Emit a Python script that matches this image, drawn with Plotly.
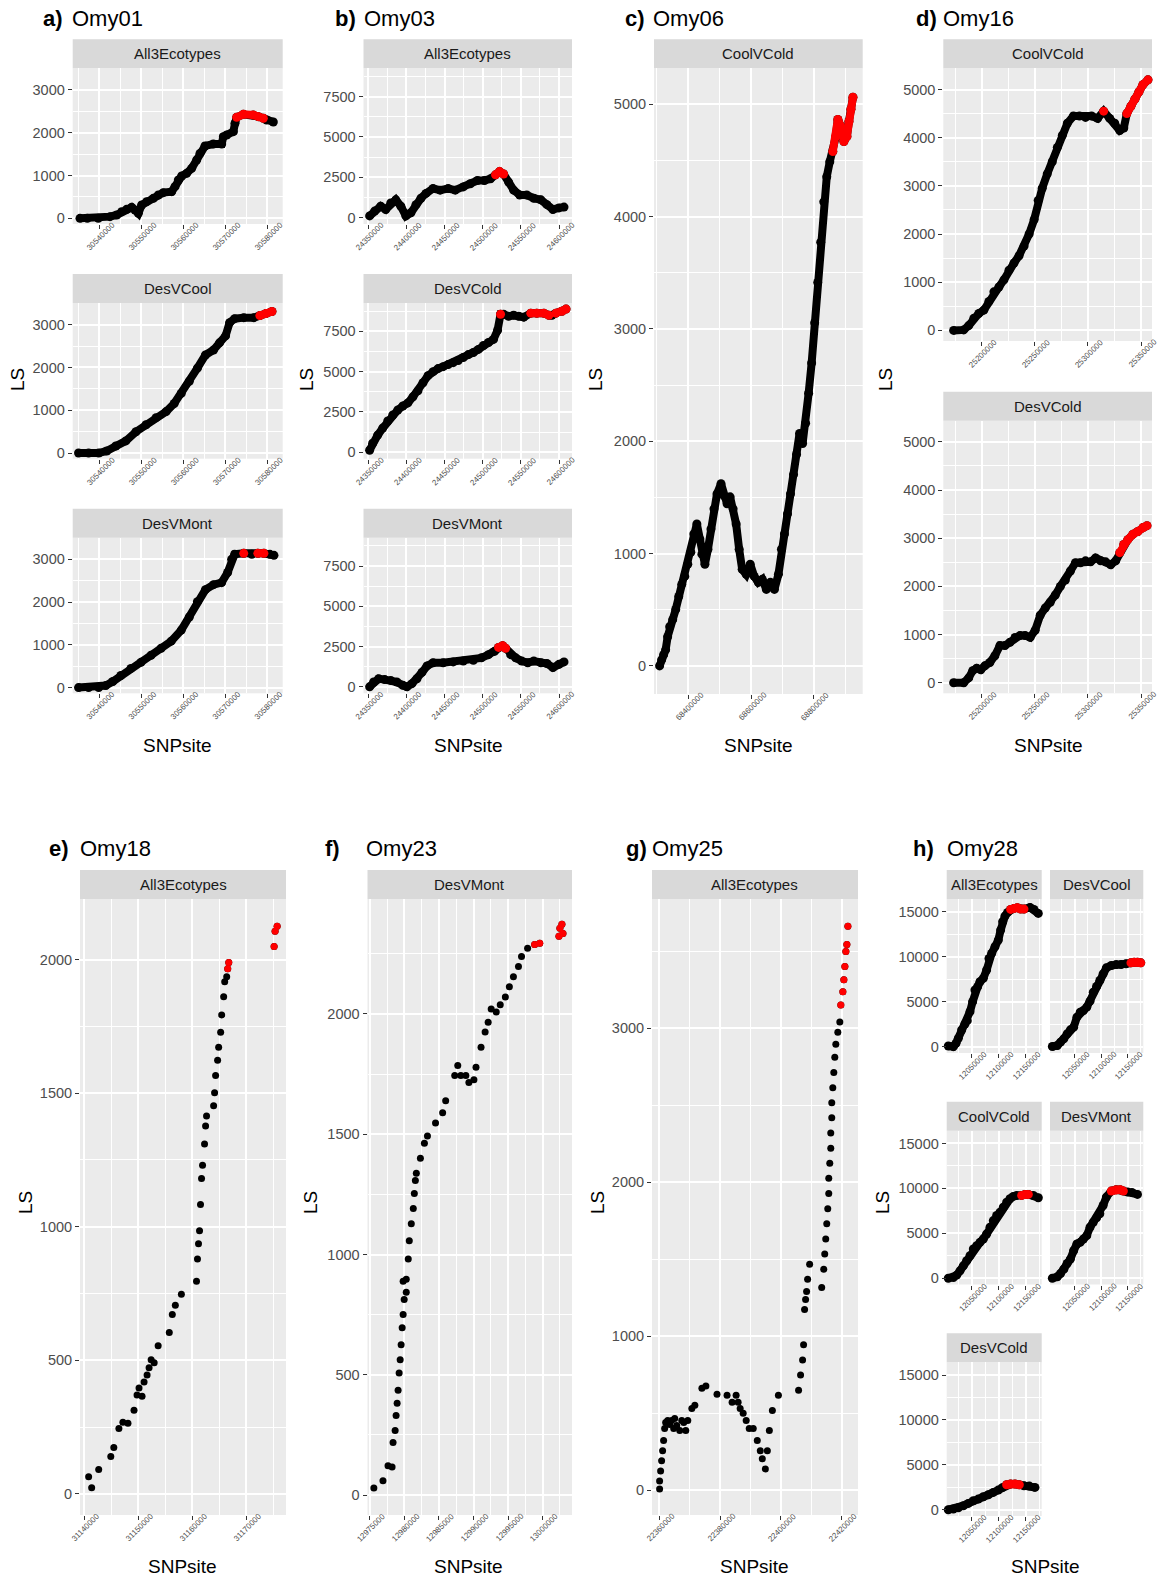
import plotly.graph_objects as go

# ---------------- data: (SNPsite, LS, outlier flag) ----------------
omy01_all3 = [(30535400,0,0),(30537150,0,0),(30539770,0,0),(30542550,39,0),(30544140,78,0),(30545330,155,0),
    (30546520,210,0),(30547710,257,0),(30548500,194,0),(30549300,117,0),(30550090,311,0),(30551280,389,0),
    (30552870,467,0),(30554060,545,0),(30555250,600,0),(30557240,623,0),(30558030,740,0),(30558820,896,0),
    (30559620,989,0),(30560810,1052,0),(30562000,1169,0),(30563190,1363,0),(30563980,1519,0),(30565170,1691,0),
    (30567150,1737,0),(30569140,1737,0),(30569540,1909,0),(30570330,1948,0),(30571920,2026,0),(30572310,2221,0),
    (30572710,2361,1),(30574300,2431,1),(30576680,2415,1),(30577870,2377,1),(30579060,2338,1),(30579850,2298,0),
    (30581440,2252,0)]
omy01_desvcool = [(30535060,0,0),(30537460,0,0),(30539860,0,0),(30541770,47,0),(30543930,165,0),(30546330,283,0),
    (30548730,496,0),(30551130,661,0),(30553520,827,0),(30555920,968,0),(30557840,1157,0),(30559520,1394,0),
    (30561440,1677,0),(30563360,1984,0),(30565280,2291,0),(30567200,2409,0),(30568630,2575,0),(30570070,2740,0),
    (30571030,3047,0),(30572230,3141,0),(30574390,3165,0),(30576790,3165,0),(30578230,3212,1),(30579670,3259,1),
    (30581110,3307,1)]
omy01_desvmont = [(30535060,0,0),(30537460,0,0),(30539860,0,0),(30541530,47,0),(30543210,142,0),(30545130,283,0),
    (30547530,449,0),(30549930,591,0),(30552330,756,0),(30554720,921,0),(30557120,1087,0),(30559520,1346,0),
    (30561440,1653,0),(30563360,2008,0),(30565280,2291,0),(30567200,2409,0),(30569120,2456,0),(30570560,2693,0),
    (30571510,3000,0),(30572230,3118,0),(30574390,3141,1),(30576310,3118,0),(30577750,3141,1),(30579190,3141,1),
    (30580630,3118,0),(30581590,3094,0)]

omy03_all3 = [(24351720,100,0),(24358320,400,0),(24366240,700,0),(24372840,500,0),(24379440,900,0),(24386040,1100,0),
    (24392650,700,0),(24399250,100,0),(24405850,300,0),(24412450,800,0),(24419050,1200,0),(24425650,1500,0),
    (24434900,1800,0),(24444140,1700,0),(24454700,1800,0),(24463940,1700,0),(24474500,1900,0),(24483740,2100,0),
    (24492980,2300,0),(24502220,2300,0),(24510140,2400,0),(24516750,2650,1),(24522030,2850,1),(24527310,2700,1),
    (24533910,2200,0),(24540510,1700,0),(24548440,1400,0),(24557680,1400,0),(24566920,1200,0),(24576160,1100,0),
    (24584080,800,0),(24592010,500,0),(24599930,600,0),(24606530,650,0)]
omy03_desvcold = [(24351720,125,0),(24355680,560,0),(24362280,1060,0),(24368880,1500,0),(24375480,1940,0),
    (24382080,2310,0),(24388680,2620,0),(24395290,2870,0),(24401890,3060,0),(24408490,3440,0),(24415090,3810,0),
    (24421690,4310,0),(24428290,4750,0),(24434900,5000,0),(24441500,5190,0),(24448100,5310,0),(24454700,5440,0),
    (24461300,5560,0),(24467900,5690,0),(24474500,5880,0),(24481110,6060,0),(24487710,6190,0),(24494310,6380,0),
    (24500910,6620,0),(24507510,6810,0),(24514110,7000,0),(24519390,7560,0),(24523350,8560,1),(24527310,8560,0),
    (24533910,8440,0),(24540510,8500,0),(24547110,8440,0),(24553710,8380,0),(24562960,8630,1),(24570880,8630,1),
    (24580120,8630,1),(24586720,8500,1),(24590680,8500,0),(24595960,8630,1),(24603880,8750,1),(24609160,8880,1)]
omy03_desvmont = [(24351720,0,0),(24357000,300,0),(24363600,500,0),(24371520,450,0),(24379440,400,0),(24387360,300,0),
    (24395290,100,0),(24400570,0,0),(24407170,200,0),(24413770,500,0),(24420370,900,0),(24426970,1300,0),
    (24434900,1500,0),(24448100,1500,0),(24461300,1550,0),(24474500,1600,0),(24487710,1650,0),(24498270,1800,0),
    (24507510,2000,0),(24515430,2200,0),(24520710,2450,1),(24526000,2550,1),(24529960,2400,1),(24536560,2000,0),
    (24543160,1800,0),(24551080,1600,0),(24559000,1500,0),(24566920,1600,0),(24576160,1500,0),(24584080,1450,0),
    (24592010,1200,0),(24599930,1400,0),(24606530,1550,0)]

omy06_coolvcold = [(68308460,0,0),(68314880,54,0),(68321310,99,0),(68327730,143,0),(68334150,260,0),(68340580,349,0),
    (68350210,412,0),(68359850,502,0),(68369480,618,0),(68379120,726,0),(68388760,797,0),(68398390,905,0),
    (68408030,1012,0),(68417670,1174,0),(68427300,1263,0),(68436940,1129,0),(68443360,995,0),(68453000,905,0),
    (68462630,1039,0),(68472270,1218,0),(68481910,1398,0),(68491540,1532,0),(68504390,1622,0),(68514030,1514,0),
    (68523660,1443,0),(68533300,1505,0),(68542930,1398,0),(68552570,1263,0),(68562210,1039,0),(68571840,860,0),
    (68584690,815,0),(68597540,905,0),(68610390,797,0),(68623230,744,0),(68636080,771,0),(68648930,681,0),
    (68661780,744,0),(68674630,681,0),(68687470,815,0),(68697110,1039,0),(68706750,1174,0),(68716380,1353,0),
    (68726020,1532,0),(68735660,1703,0),(68745290,1882,0),(68754930,2070,0),(68764560,1980,0),(68774200,2160,0),
    (68783840,2428,0),(68793470,2697,0),(68803110,3055,0),(68812750,3414,0),(68822380,3772,0),(68832020,4131,0),
    (68841650,4355,0),(68851290,4489,0),(68860920,4579,1),(68870560,4713,1),(68876980,4865,1),(68886620,4802,1),
    (68896260,4668,1),(68905890,4713,1),(68912320,4847,1),(68918740,4955,1),(68925160,5062,1)]

omy16_coolvcold = [(25173550,0,0),(25183030,10,0),(25187770,100,0),(25192510,250,0),(25197250,350,0),(25201990,420,0),
    (25206730,600,0),(25211470,800,0),(25216210,900,0),(25220950,1050,0),(25225700,1250,0),(25230440,1400,0),
    (25235180,1550,0),(25239920,1750,0),(25244660,2000,0),(25249400,2300,0),(25253190,2700,0),(25256990,2950,0),
    (25261730,3250,0),(25266470,3500,0),(25271210,3800,0),(25275950,4050,0),(25280690,4300,0),(25286380,4450,0),
    (25292070,4450,0),(25297760,4420,0),(25303450,4450,0),(25309140,4400,0),(25314830,4550,1),(25320520,4400,0),
    (25325270,4300,0),(25330010,4150,0),(25333800,4200,0),(25336640,4500,1),(25340440,4650,1),(25344230,4800,1),
    (25348020,4950,1),(25351820,5100,1),(25356560,5200,1)]
omy16_desvcold = [(25173550,0,0),(25183030,0,0),(25187770,100,0),(25191560,250,0),(25195350,300,0),(25199150,270,0),
    (25202940,350,0),(25207680,420,0),(25212420,560,0),(25217160,770,0),(25221900,770,0),(25226650,840,0),
    (25231390,940,0),(25236130,980,0),(25240870,980,0),(25245610,940,0),(25250350,1090,0),(25255090,1400,0),
    (25259830,1550,0),(25264570,1670,0),(25269310,1820,0),(25274050,2000,0),(25278800,2130,0),(25283540,2320,0),
    (25288280,2490,0),(25293020,2490,0),(25297760,2530,0),(25302500,2510,0),(25307240,2590,0),(25311980,2530,0),
    (25316720,2510,0),(25321470,2450,0),(25326210,2530,0),(25330010,2700,1),(25333800,2870,1),(25337590,2970,1),
    (25342330,3080,1),(25347070,3140,1),(25351820,3220,1),(25355610,3260,1)]

omy18_all3 = [(31140860,64,0),(31141420,23,0),(31142720,91,0),(31144960,140,0),(31145520,174,0),(31146460,245,0),
    (31147200,268,0),(31148140,264,0),(31149260,313,0),(31149820,370,0),(31150190,396,0),(31150750,366,0),
    (31151120,419,0),(31151680,445,0),(31152050,472,0),(31152430,502,0),(31152990,491,0),(31153730,555,0),
    (31155790,604,0),(31156350,672,0),(31156910,706,0),(31158030,747,0),(31160830,796,0),(31161010,879,0),
    (31161200,936,0),(31161390,985,0),(31161570,1083,0),(31161760,1181,0),(31161950,1230,0),(31162320,1310,0),
    (31162510,1377,0),(31162690,1415,0),(31164000,1453,0),(31164180,1502,0),(31164370,1566,0),(31164740,1623,0),
    (31164930,1672,0),(31165300,1728,0),(31165490,1793,0),(31165860,1861,0),(31166050,1917,0),(31166420,1936,0),
    (31166610,1966,1),(31166800,1989,1),(31175200,2049,1),(31175380,2106,1),(31175760,2125,1)]

omy23_desvmont = [(12975570,29,0),(12976890,59,0),(12977620,122,0),(12978210,117,0),(12978350,218,0),(12978650,268,0),
    (12978790,331,0),(12978940,382,0),(12979080,436,0),(12979230,507,0),(12979380,562,0),(12979520,625,0),
    (12979670,696,0),(12979810,751,0),(12979960,813,0),(12979810,889,0),(12980260,897,0),(12980260,843,0),
    (12980550,981,0),(12980700,1057,0),(12980990,1128,0),(12981280,1191,0),(12981430,1254,0),(12981580,1308,0),
    (12981720,1338,0),(12982310,1400,0),(12982890,1463,0),(12983330,1493,0),(12984500,1547,0),(12985530,1589,0),
    (12985970,1639,0),(12987280,1744,0),(12987720,1786,0),(12988160,1744,0),(12988890,1744,0),(12989330,1715,0),
    (12990060,1727,0),(12990360,1778,0),(12991090,1862,0),(12991680,1925,0),(12992120,1966,0),(12992560,2021,0),
    (12993290,2008,0),(12993870,2038,0),(12994610,2071,0),(12995190,2113,0),(12995780,2155,0),(12996510,2197,0),
    (12996950,2239,0),(12997830,2273,0),(12998850,2289,1),(12999590,2294,1),(13002370,2323,1),(13002510,2356,1),
    (13002800,2373,1),(13002950,2335,1)]

omy25_all3 = [(22360100,7,0),(22360100,59,0),(22360430,124,0),(22360760,190,0),(22361090,255,0),(22361420,321,0),
    (22361760,399,0),(22362090,439,0),(22362750,452,0),(22363410,426,0),(22364070,452,0),(22364740,399,0),
    (22365070,465,0),(22365730,419,0),(22366720,386,0),(22367390,452,0),(22368050,439,0),(22368710,386,0),
    (22369370,452,0),(22370700,530,0),(22371690,550,0),(22374010,661,0),(22375330,675,0),(22378980,622,0),
    (22382290,616,0),(22383950,570,0),(22385270,616,0),(22385930,570,0),(22386600,530,0),(22387590,498,0),
    (22388580,452,0),(22389580,399,0),(22390900,399,0),(22392230,321,0),(22393220,255,0),(22393880,203,0),
    (22394880,137,0),(22395540,255,0),(22396200,386,0),(22397190,517,0),(22399180,616,0),(22405810,648,0),
    (22406470,747,0),(22407130,845,0),(22407460,943,0),(22407790,1172,0),(22408120,1238,0),(22408450,1290,0),
    (22408790,1369,0),(22409450,1467,0),(22413420,1316,0),(22414090,1434,0),(22414420,1533,0),(22414750,1631,0),
    (22415080,1729,0),(22415410,1827,0),(22415740,1925,0),(22415740,2024,0),(22416070,2122,0),(22416400,2220,0),
    (22416400,2318,0),(22416730,2417,0),(22416730,2515,0),(22417070,2613,0),(22417400,2711,0),(22417730,2810,0),
    (22418060,2895,0),(22418720,2973,0),(22419380,3039,0),(22419710,3150,1),(22420380,3235,1),(22420710,3314,1),
    (22421040,3399,1),(22421370,3497,1),(22421700,3543,1),(22422030,3661,1)]

omy28_all3 = [(12006670,78,0),(12015930,4,0),(12020870,374,0),(12025190,930,0),(12031360,1856,0),(12037530,2523,0),
    (12041850,2893,0),(12046790,3893,0),(12051730,5004,0),(12056050,6300,0),(12060990,6670,0),(12065310,7226,0),
    (12071480,7596,0),(12077650,8522,0),(12081970,9818,0),(12086910,10373,0),(12093080,11114,0),(12099260,11855,0),
    (12103580,12966,0),(12107280,13892,0),(12111600,14522,0),(12116540,14929,0),(12122100,15263,1),(12128270,15374,1),
    (12134440,15448,1),(12140610,15300,1),(12146790,15300,1),(12157900,15487,0),(12165300,15263,0),(12173300,14818,0)]
omy28_desvcool = [(12008150,24,0),(12017410,135,0),(12023580,506,0),(12029750,876,0),(12035920,1432,0),(12042100,1876,0),
    (12048270,2172,0),(12054440,3283,0),(12060610,3839,0),(12066780,4024,0),(12072960,4395,0),(12079130,5062,0),
    (12085300,6062,0),(12091480,6692,0),(12097650,7359,0),(12103820,8100,0),(12110000,8766,0),(12119250,9025,0),
    (12128510,9136,0),(12137770,9136,0),(12147030,9211,0),(12156290,9322,1),(12162460,9396,1),(12168630,9396,1),
    (12174800,9322,1)]
omy28_coolvcold = [(12006670,0,0),(12015930,75,0),(12022100,336,0),(12028280,821,0),(12034450,1380,0),(12040620,1940,0),
    (12046790,2500,0),(12052960,3246,0),(12059140,3619,0),(12065310,3992,0),(12071480,4365,0),(12077650,4925,0),
    (12083830,5671,0),(12090000,6417,0),(12096170,6977,0),(12102350,7350,0),(12108520,7910,0),(12114690,8469,0),
    (12120860,8842,0),(12127040,9104,0),(12133210,9216,0),(12142470,9216,1),(12148640,9328,1),(12154820,9328,1),
    (12164070,9216,0),(12173330,8954,0)]
omy28_desvmont = [(12008150,0,0),(12017410,149,0),(12023580,522,0),(12029750,1007,0),(12035920,1642,0),(12042100,2127,0),
    (12048270,3059,0),(12054440,3806,0),(12060610,3992,0),(12066780,4365,0),(12072960,4738,0),(12079130,5671,0),
    (12085300,6231,0),(12091480,6716,0),(12097650,7164,0),(12103820,8097,0),(12110000,9029,0),(12119250,9701,1),
    (12128510,9850,1),(12135910,9850,1),(12142090,9701,1),(12150110,9589,0),(12158130,9552,0),(12168630,9328,0)]
omy28_desvcold = [(12006670,0,0),(12015930,74,0),(12025190,222,0),(12034450,444,0),(12043710,704,0),(12052960,1000,0),
    (12062220,1185,0),(12071480,1444,0),(12080740,1667,0),(12090000,1926,0),(12099260,2185,0),(12107280,2482,0),
    (12114690,2778,1),(12122100,2852,1),(12130120,2852,1),(12138140,2778,1),(12146790,2667,0),(12156660,2630,0),
    (12167150,2482,0)]

# ---------------- tick values ----------------
omy01_xticks = [30540000, 30550000, 30560000, 30570000, 30580000]
omy01_yticks = [0, 1000, 2000, 3000]
omy03_xticks = [24350000, 24400000, 24450000, 24500000, 24550000, 24600000]
omy03_yticks = [0, 2500, 5000, 7500]
omy06_xticks = [68400000, 68600000, 68800000]
omy06_yticks = [0, 1000, 2000, 3000, 4000, 5000]
omy16_xticks = [25200000, 25250000, 25300000, 25350000]
omy16_yticks = [0, 1000, 2000, 3000, 4000, 5000]
omy18_xticks = [31140000, 31150000, 31160000, 31170000]
omy18_yticks = [0, 500, 1000, 1500, 2000]
omy23_xticks = [12975000, 12980000, 12985000, 12990000, 12995000, 13000000]
omy23_yticks = [0, 500, 1000, 1500, 2000]
omy25_xticks = [22360000, 22380000, 22400000, 22420000]
omy25_yticks = [0, 1000, 2000, 3000]
omy28_xticks = [12050000, 12100000, 12150000]
omy28_yticks = [0, 5000, 10000, 15000]

# ---------------- figure ----------------
W, H = 1158, 1579
FONT = "Liberation Sans, Arial, sans-serif"
PANEL_BG = "#EBEBEB"
STRIP_BG = "#D9D9D9"
TICK_GREY = "#4D4D4D"


def fx(p):
    return p / W


def fy(p):
    return 1 - p / H


fig = go.Figure()
layout = {}
shapes = []
annotations = []
counter = [0]


def minor_vals(ticks, rng):
    step = ticks[1] - ticks[0]
    vals = [t - step / 2 for t in ticks] + [ticks[-1] + step / 2]
    return [v for v in vals if rng[0] <= v <= rng[1]]


def facet(data, xpix, ypix, xr, yr, xt, yt, strip, show_y=True, dense=True):
    counter[0] += 1
    n = counter[0]
    s = "" if n == 1 else str(n)
    xa, ya = "x" + s, "y" + s
    pos = [d[0] for d in data]
    ls = [d[1] for d in data]
    msize = 9 if dense else 7
    mode = "lines+markers" if dense else "markers"
    fig.add_trace(go.Scatter(x=pos, y=ls, mode=mode, xaxis=xa, yaxis=ya,
                             marker=dict(color="black", size=msize),
                             line=dict(color="black", width=8),
                             showlegend=False, hoverinfo="skip", cliponaxis=False))
    rx, ry, prev = [], [], None
    for i, d in enumerate(data):
        if d[2]:
            if prev is not None and prev != i - 1:
                rx.append(None)
                ry.append(None)
            rx.append(d[0])
            ry.append(d[1])
            prev = i
    fig.add_trace(go.Scatter(x=rx, y=ry, mode=mode, xaxis=xa, yaxis=ya,
                             marker=dict(color="#FF0000", size=msize),
                             line=dict(color="#FF0000", width=8),
                             showlegend=False, hoverinfo="skip", cliponaxis=False))
    x0, x1 = xpix
    st, sb, pb = ypix
    layout["xaxis" + s] = dict(
        domain=[fx(x0), fx(x1)], anchor=ya, range=xr, tickmode="array", automargin=False,
        tickvals=xt, showticklabels=False,
        ticks="outside", ticklen=4, tickwidth=1.1, tickcolor="#333333",
        showgrid=True, gridcolor="white", gridwidth=1.6, zeroline=False, showline=False,
        minor=dict(tickmode="array", tickvals=minor_vals(xt, xr), showgrid=True,
                   gridcolor="white", gridwidth=0.8, ticks=""),
        fixedrange=True)
    layout["yaxis" + s] = dict(
        domain=[fy(pb), fy(sb)], anchor=xa, range=yr, tickmode="array", automargin=False,
        tickvals=yt, ticktext=[str(v) for v in yt], showticklabels=show_y,
        tickfont=dict(size=14.5, color=TICK_GREY, family=FONT),
        ticks="outside" if show_y else "", ticklen=4, tickwidth=1.1, tickcolor="#333333",
        showgrid=True, gridcolor="white", gridwidth=1.6, zeroline=False, showline=False,
        minor=dict(tickmode="array", tickvals=minor_vals(yt, yr), showgrid=True,
                   gridcolor="white", gridwidth=0.8, ticks=""),
        fixedrange=True)
    # rotated x tick labels centred under each tick (ggplot angle = 45)
    for t in xt:
        annotations.append(dict(text=str(t), xref=xa, yref="paper", x=t, y=fy(pb + 12.5),
                                xshift=1.5, textangle=-45, showarrow=False,
                                xanchor="center", yanchor="middle",
                                font=dict(size=8, color=TICK_GREY, family=FONT)))
    shapes.append(dict(type="rect", xref="paper", yref="paper", x0=fx(x0), x1=fx(x1),
                       y0=fy(sb), y1=fy(st), fillcolor=STRIP_BG, line=dict(width=0), layer="below"))
    annotations.append(dict(text=strip, xref="paper", yref="paper", x=fx((x0 + x1) / 2),
                            y=fy((st + sb) / 2), showarrow=False, xanchor="center", yanchor="middle",
                            font=dict(size=15, color="#1A1A1A", family=FONT)))


def title(label, name, xl, xt, yc):
    annotations.append(dict(text="<b>%s</b>" % label, xref="paper", yref="paper", x=fx(xl), y=fy(yc),
                            xanchor="left", yanchor="middle", showarrow=False,
                            font=dict(size=22, color="black", family=FONT)))
    annotations.append(dict(text=name, xref="paper", yref="paper", x=fx(xt), y=fy(yc),
                            xanchor="left", yanchor="middle", showarrow=False,
                            font=dict(size=22, color="black", family=FONT)))


def axis_titles(xc, yx, ycx, ycy):
    annotations.append(dict(text="SNPsite", xref="paper", yref="paper", x=fx(xc), y=fy(yx),
                            xanchor="center", yanchor="middle", showarrow=False,
                            font=dict(size=19, color="black", family=FONT)))
    annotations.append(dict(text="LS", xref="paper", yref="paper", x=fx(ycx), y=fy(ycy),
                            xanchor="center", yanchor="middle", showarrow=False, textangle=-90,
                            font=dict(size=19, color="black", family=FONT)))


rows3 = [(39.3, 68.3, 224.0), (274.0, 303.0, 458.7), (508.7, 537.7, 693.3)]

# a) Omy01
xr, yr = [30533670, 30583670], [-133, 3507]
for d, lab, r in zip([omy01_all3, omy01_desvcool, omy01_desvmont], ["All3Ecotypes", "DesVCool", "DesVMont"], rows3):
    facet(d, (72.7, 282.7), r, xr, yr, omy01_xticks, omy01_yticks, lab)
title("a)", "Omy01", 40.5, 70, 19)
axis_titles(177, 745, 17, 380)

# b) Omy03
xr, yr = [24343700, 24617000], [-400, 9260]
for d, lab, r in zip([omy03_all3, omy03_desvcold, omy03_desvmont], ["All3Ecotypes", "DesVCold", "DesVMont"], rows3):
    facet(d, (363.5, 572.0), r, xr, yr, omy03_xticks, omy03_yticks, lab)
title("b)", "Omy03", 333, 362, 19)
axis_titles(468, 745, 306, 380)

# c) Omy06
facet(omy06_coolvcold, (654.0, 862.7), (39.3, 68.3, 694.0), [68290600, 68956300], [-250, 5320],
      omy06_xticks, omy06_yticks, "CoolVCold")
title("c)", "Omy06", 623, 651, 19)
axis_titles(758, 745, 595, 380)

# d) Omy16
xr, yr = [25163840, 25360360], [-220, 5440]
facet(omy16_coolvcold, (943.3, 1152.0), (39.3, 68.3, 341.0), xr, yr, omy16_xticks, omy16_yticks, "CoolVCold")
facet(omy16_desvcold, (943.3, 1152.0), (391.7, 420.7, 693.3), xr, yr, omy16_xticks, omy16_yticks, "DesVCold")
title("d)", "Omy16", 914, 941, 19)
axis_titles(1048, 745, 885, 380)

# e) Omy18
facet(omy18_all3, (80.0, 286.0), (870.0, 899.0, 1515.0), [31139260, 31177400], [-79, 2227],
      omy18_xticks, omy18_yticks, "All3Ecotypes", dense=False)
title("e)", "Omy18", 47, 78, 848)
axis_titles(182, 1566, 25, 1203)

# f) Omy23
facet(omy23_desvmont, (367.5, 572.0), (870.0, 899.0, 1515.0), [12974650, 13004260], [-83, 2478],
      omy23_xticks, omy23_yticks, "DesVMont", dense=False)
title("f)", "Omy23", 323, 364, 848)
axis_titles(468, 1566, 310, 1203)

# g) Omy25
facet(omy25_all3, (652.0, 858.0), (870.0, 899.0, 1515.0), [22357600, 22425360], [-162, 3838],
      omy25_xticks, omy25_yticks, "All3Ecotypes", dense=False)
title("g)", "Omy25", 624, 650, 848)
axis_titles(755, 1566, 597, 1203)

# h) Omy28
xr, yr = [12003700, 12179600], [-700, 16420]
c1, c2 = (946.7, 1041.7), (1050.0, 1143.3)
hr = [(870.0, 899.0, 1053.0), (1101.7, 1130.7, 1284.5), (1333.3, 1362.3, 1516.0)]
facet(omy28_all3, c1, hr[0], xr, yr, omy28_xticks, omy28_yticks, "All3Ecotypes")
facet(omy28_desvcool, c2, hr[0], xr, yr, omy28_xticks, omy28_yticks, "DesVCool", show_y=False)
facet(omy28_coolvcold, c1, hr[1], xr, yr, omy28_xticks, omy28_yticks, "CoolVCold")
facet(omy28_desvmont, c2, hr[1], xr, yr, omy28_xticks, omy28_yticks, "DesVMont", show_y=False)
facet(omy28_desvcold, c1, hr[2], xr, yr, omy28_xticks, omy28_yticks, "DesVCold")
title("h)", "Omy28", 911, 945, 848)
axis_titles(1045, 1566, 882, 1203)

fig.update_layout(width=W, height=H, margin=dict(l=0, r=0, t=0, b=0, pad=0, autoexpand=False), autosize=False,
                  paper_bgcolor="white", plot_bgcolor=PANEL_BG, showlegend=False,
                  font=dict(family=FONT), shapes=shapes, annotations=annotations, **layout)

fig.write_html("out.html", config={"displayModeBar": False})
